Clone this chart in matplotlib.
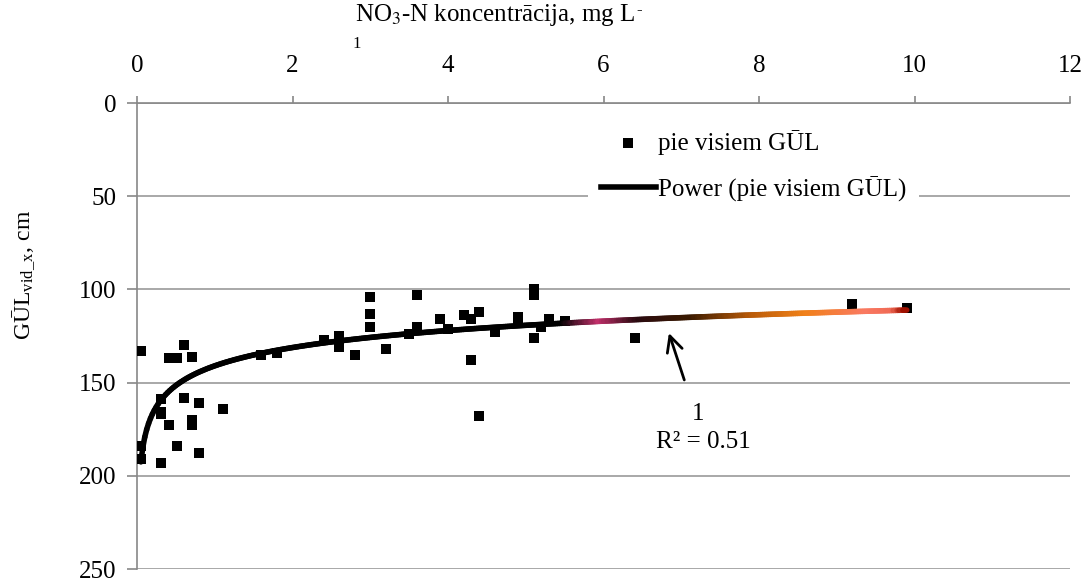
import numpy as np
import matplotlib
matplotlib.use("Agg")
import matplotlib.pyplot as plt
from matplotlib.collections import LineCollection
from matplotlib.colors import LinearSegmentedColormap

plt.rcParams['font.family'] = ['Liberation Serif', 'DejaVu Serif']
plt.rcParams['mathtext.fontset'] = 'stix'

# measured points: NO3-N (mg/L) vs GUL depth (cm)
no3 = [0.05, 0.05, 0.05, 0.31, 0.31, 0.31, 0.31, 0.41, 0.51, 0.60, 0.71, 0.71,
       0.80, 0.80, 1.10, 0.41, 0.51, 0.60, 0.71, 1.60, 1.80,
       2.40, 2.60, 2.60, 2.80, 3.00, 3.00, 3.00, 3.20, 3.60, 3.60, 3.50,
       3.90, 4.00, 4.20, 4.30, 4.40, 4.30, 4.40, 4.60, 4.90, 4.90, 5.10, 5.10,
       5.10, 5.20, 5.30, 5.50, 6.40, 9.20, 9.90]
gul = [133, 184, 191, 193, 159, 167, 166, 173, 184, 158, 170, 173,
       161, 188, 164, 137, 137, 130, 136, 135, 134,
       127, 125, 131, 135, 104, 113, 120, 132, 103, 120, 124,
       116, 121, 114, 116, 112, 138, 168, 123, 115, 118, 100, 103,
       126, 120, 116, 117, 126, 108, 110]

# power trendline y = a * x^b
fit_a = 141.0
fit_b = -0.104
r2 = 0.51

fs = 18

fig = plt.figure(figsize=(10.84, 5.81), dpi=100)
ax = fig.add_axes([0.1264, 1 - 569 / 581, 0.8607, 466 / 581])

ax.set_xlim(0, 12)
ax.set_ylim(250, 0)
ax.xaxis.tick_top()
ax.set_xticks(range(0, 13, 2))
ax.set_yticks(range(0, 251, 50))
ax.tick_params(axis='both', labelsize=fs, colors='black', width=1.2)
ax.tick_params(axis='x', color='#888888', length=5, pad=14)
ax.tick_params(axis='y', color='#888888', length=7, pad=8)
ax.yaxis.grid(True, color='#999999', linewidth=1.2)
ax.set_axisbelow(True)
for s in ['right', 'bottom']:
    ax.spines[s].set_visible(False)
for s in ['left', 'top']:
    ax.spines[s].set_color('#888888')
    ax.spines[s].set_linewidth(1.2)

ax.scatter(no3, gul, marker='s', s=62, color='black', zorder=3,
           label='pie visiem GŪL', linewidths=0)

# trendline, colour fades to orange at the right end
xs = np.linspace(0.05, 9.9, 400)
ys = fit_a * xs ** fit_b
pts = np.array([xs, ys]).T.reshape(-1, 1, 2)
segs = np.concatenate([pts[:-1], pts[1:]], axis=1)
cmap = LinearSegmentedColormap.from_list(
    'trend', [(0, 'black'), (0.55, 'black'), (0.6, '#c0306a'), (0.65, '#2a0a10'),
              (0.72, '#3a1a00'), (0.8, '#b85a08'), (0.87, '#f08018'),
              (0.95, '#fa7a62'), (0.985, '#f06a55'), (1.0, '#a01000')])
lc = LineCollection(segs, cmap=cmap, linewidth=4, zorder=4, capstyle='round')
lc.set_array(xs[:-1] / xs.max())
ax.add_collection(lc)
ax.plot([], [], color='black', linewidth=4, label='Power (pie visiem GŪL)')

leg = ax.legend(loc='upper left', bbox_to_anchor=(0.470, 0.996), fontsize=fs,
                frameon=True, facecolor='white', edgecolor='none', framealpha=1,
                handlelength=2.2, handletextpad=0.1, borderpad=0.5, labelspacing=0.85,
                fancybox=False)

ax.annotate('', xy=(6.83, 122), xytext=(7.05, 150),
            arrowprops=dict(arrowstyle='->', color='black', lw=2, mutation_scale=28))
ax.text(7.22, 167, '1', fontsize=fs, ha='center', va='center')
ax.text(7.28, 182, 'R² = %.2f' % r2, fontsize=fs, ha='center', va='center')

title = fig.text(0.457, 0.974, 'NO$_3$-N koncentrācija, mg L', fontsize=fs,
                 ha='center', va='center')
ax.annotate('-', xy=(1.0, 1.0), xycoords=title, xytext=(1, 0),
            textcoords='offset points', fontsize=12, ha='left', va='top',
            annotation_clip=False)
fig.text(0.329, 0.924, '1', fontsize=12, ha='center', va='center')
fig.text(0.022, 0.527, 'GŪL$_{\\mathregular{vid\\_x}}$, cm', fontsize=17, rotation=90,
         ha='center', va='center')

fig.savefig('out.png', dpi=100)
